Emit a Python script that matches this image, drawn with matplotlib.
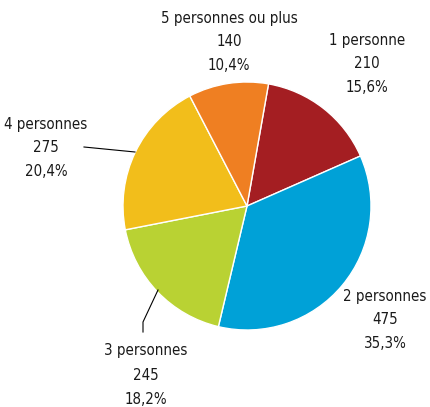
import matplotlib
matplotlib.use("Agg")
import matplotlib.pyplot as plt

# Données
categories = ["1 personne", "2 personnes", "3 personnes", "4 personnes", "5 personnes ou plus"]
valeurs = [210, 475, 245, 275, 140]
pourcentages = ["15,6%", "35,3%", "18,2%", "20,4%", "10,4%"]
couleurs = ["#A41E22", "#00A1D7", "#B9D233", "#F2BE1B", "#EF7F22"]

plt.rcParams["font.family"] = ["DejaVu Sans"]

W, H = 430, 407
fig = plt.figure(figsize=(W / 100, H / 100), dpi=100)
ax = fig.add_axes([0, 0, 1, 1])

cx, cy, r = 247, H - 206, 124
ax.pie(valeurs, colors=couleurs, startangle=80, counterclock=False,
       center=(cx, cy), radius=r, frame=True,
       wedgeprops=dict(edgecolor="white", linewidth=1))
ax.set_xlim(0, W)
ax.set_ylim(0, H)
ax.set_aspect("equal")
ax.axis("off")

# Positions des étiquettes (pixels, haut -> bas)
pos = {
    "1 personne": (367, 40),
    "2 personnes": (385, 296),
    "3 personnes": (146, 351),
    "4 personnes": (46, 124),
    "5 personnes ou plus": (229, 18),
}
ecart = 24
for cat, v, p in zip(categories, valeurs, pourcentages):
    x, y = pos[cat]
    for i, t in enumerate([cat, str(v), p]):
        ax.text(x, H - (y + i * ecart), t, ha="center", va="center",
                fontsize=10.8, fontstretch="condensed", color="#1a1a1a")

# Traits de rappel
ax.plot([84, 135], [H - 147, H - 152], color="black", lw=0.8)
ax.plot([143, 143, 158], [H - 332, H - 322, H - 290], color="black", lw=0.8)

fig.savefig("out.png", dpi=100)
